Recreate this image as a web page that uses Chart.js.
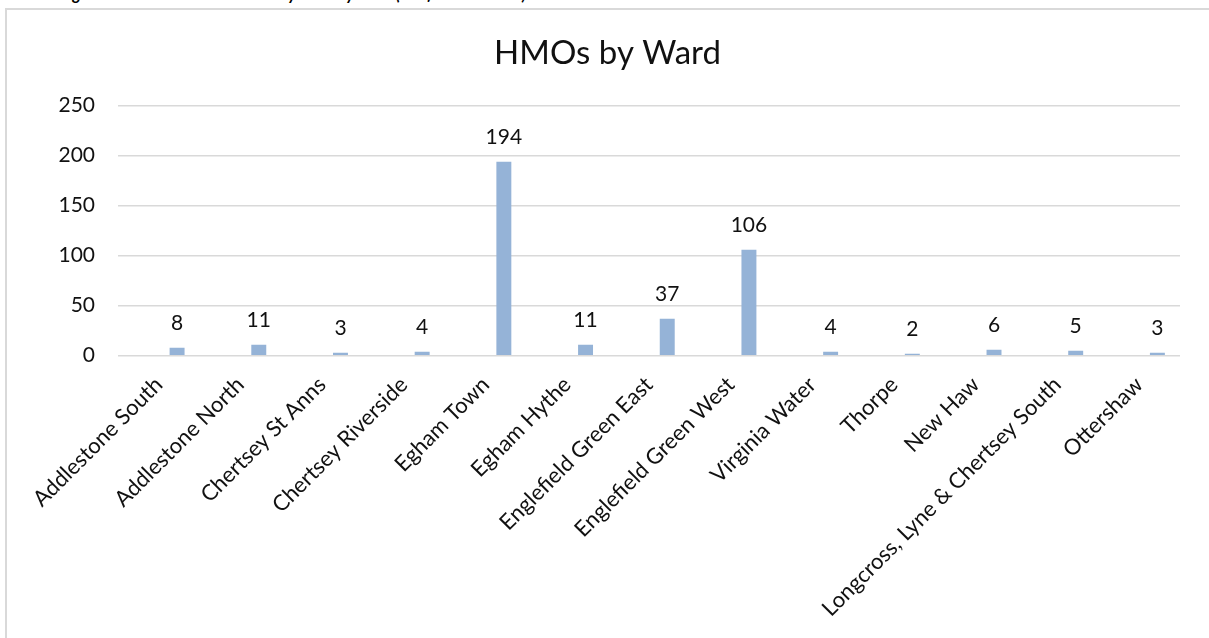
<!DOCTYPE html>
<html>
<head>
<meta charset="utf-8">
<title>HMOs by Ward</title>
<script src="https://cdn.jsdelivr.net/npm/chart.js@4.4.0/dist/chart.umd.min.js"></script>
<style>
    html, body { margin: 0; padding: 0; background: #fff; overflow: hidden; width: 1209px; height: 638px; }
    .caption { position: absolute; left: 60px; top: -16.5px; font: italic bold 16.4px Lato, sans-serif; color: #000; white-space: nowrap; }
    .frame { position: absolute; left: 5px; top: 8px; width: 1400px; height: 900px; border: 2px solid #d9d9d9; border-right: none; border-bottom: none; }
    .wrap { position: absolute; left: 0; top: 0; width: 1209px; height: 638px; }
</style>
</head>
<body>
<div class="caption">Figure 1: Licensed HMOs in Runnymede by ward (as of March 2022)</div>
<div class="frame"></div>
<div class="wrap"><canvas id="hmo-chart"></canvas></div>
<script>
// ── Data ──────────────────────────
const wards = [
    'Addlestone South', 'Addlestone North', 'Chertsey St Anns', 'Chertsey Riverside',
    'Egham Town', 'Egham Hythe', 'Englefield Green East', 'Englefield Green West',
    'Virginia Water', 'Thorpe', 'New Haw', 'Longcross, Lyne & Chertsey South', 'Ottershaw'
];
const hmoCounts = [8, 11, 3, 4, 194, 11, 37, 106, 4, 2, 6, 5, 3];
// empty first series in the source sheet, which pushes the bars right of centre
const blankSeries = [null, null, null, null, null, null, null, null, null, null, null, null, null];
const yMin = 0;
const yMax = 250;
const yStep = 50;

const TEXT = '#111111';
const BAR = '#95B3D7';
const GRID = '#d9d9d9';
const FONT = 'Lato';

// value labels above each bar
const barLabels = {
    id: 'barLabels',
    afterDatasetsDraw(chart) {
        const ctx = chart.ctx;
        const meta = chart.getDatasetMeta(1);
        ctx.save();
        ctx.font = `21px ${FONT}`;
        ctx.fillStyle = TEXT;
        ctx.textAlign = 'center';
        ctx.textBaseline = 'alphabetic';
        meta.data.forEach((bar, i) => {
            ctx.fillText(String(hmoCounts[i]), bar.x, bar.y - 17.5);
        });
        ctx.restore();
    }
};

new Chart(document.getElementById('hmo-chart').getContext('2d'), {
    type: 'bar',
    data: {
        labels: wards,
        datasets: [
            { label: '', data: blankSeries, backgroundColor: BAR },
            { label: 'HMOs', data: hmoCounts, backgroundColor: BAR, borderWidth: 0 }
        ]
    },
    options: {
        responsive: true,
        maintainAspectRatio: false,
        animation: false,
        categoryPercentage: 0.893,
        barPercentage: 0.41,
        layout: { padding: { left: 35, right: 29, top: 0, bottom: 0 } },
        plugins: {
            legend: { display: false },
            tooltip: { enabled: false },
            title: {
                display: true,
                text: 'HMOs by Ward',
                color: TEXT,
                font: { family: FONT, size: 33, weight: 'normal', lineHeight: 1.2 },
                padding: { top: 34, bottom: 32.1 }
            }
        },
        scales: {
            x: {
                grid: { display: false, drawTicks: false },
                border: { display: false },
                ticks: {
                    autoSkip: false,
                    minRotation: 45,
                    maxRotation: 45,
                    padding: 16,
                    color: TEXT,
                    font: { family: FONT, size: 22 }
                },
                afterFit: s => { s.height = 282.3; }
            },
            y: {
                min: yMin,
                max: yMax,
                grid: { color: GRID, lineWidth: 1.5, drawTicks: false },
                border: { display: false },
                ticks: {
                    stepSize: yStep,
                    padding: 23,
                    color: TEXT,
                    font: { family: FONT, size: 21 }
                },
                afterFit: s => { s.width = 83; }
            }
        }
    },
    plugins: [barLabels]
});
</script>
</body>
</html>
